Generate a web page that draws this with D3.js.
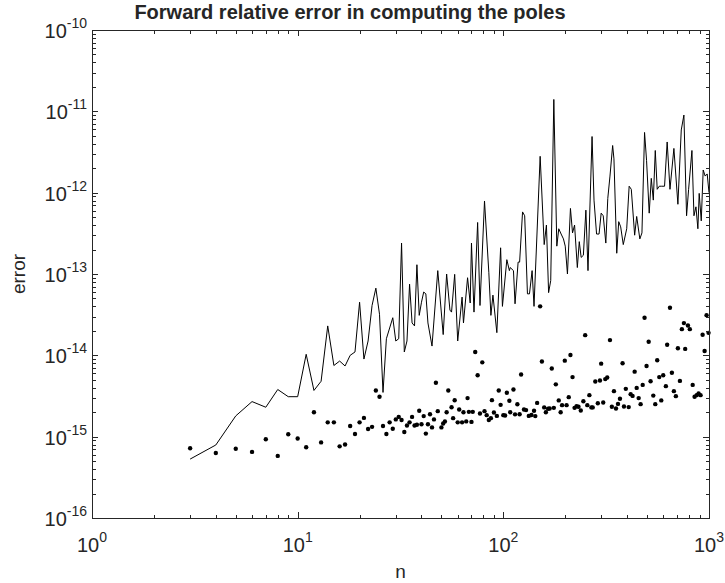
<!DOCTYPE html>
<html>
<head>
<meta charset="utf-8">
<script src="https://cdn.jsdelivr.net/npm/d3@7"></script>
<style>
  html, body { margin: 0; padding: 0; background: #fff; }
  svg { display: block; }
  text { font-family: "Liberation Sans", Arial, Helvetica, sans-serif; fill: #262626; }
</style>
</head>
<body>
<svg id="chart" width="725" height="583"></svg>
<script>
// ---- data ----
const lineN = [3,4,5,6,7,8,9,10,11,12,13,14,15,16,17,18,19,20,21,22,23,24,25,26,27,29,30,31,32,33,34,35,36,37,38,39,40,41,42,43,45,48,51,53,55,56,58,60,63,64,67,69,70,72,75,77,81,85,87,89,93,97,99,104,107,108,112,114,118,120,124,127,131,134,138,141,151,158,162,166,170,176,182,186,191,196,200,205,212,217,222,229,234,239,245,252,258,270,276,284,292,299,306,315,322,330,340,345,356,364,372,383,398,409,419,435,445,461,472,486,497,512,524,536,548,560,573,586,608,626,646,675,706,733,755,778,796,826,845,864,883,896,917,937,958,980,1000];
const lineErr = [5.3e-16,7.9e-16,1.8e-15,2.7e-15,2.3e-15,3.8e-15,3.1e-15,3.1e-15,1.03e-14,3.7e-15,4.8e-15,2.3e-14,7.5e-15,8.5e-15,7.4e-15,1.0e-14,1.1e-14,4.5e-14,9.0e-15,1.5e-14,4.1e-14,6.7e-14,3.2e-14,3.5e-15,1.6e-14,2.9e-14,1.5e-14,1.6e-14,2.4e-13,1.1e-14,1.5e-14,7.5e-14,2.5e-14,2.3e-14,1.3e-13,3.1e-14,4.5e-14,6.0e-14,5.7e-14,2.5e-14,1.3e-14,1.1e-13,1.8e-14,1.0e-13,3.6e-14,3.4e-14,9.9e-14,1.5e-14,5.2e-14,2.5e-14,9.0e-14,4.4e-14,2.4e-13,3.4e-14,4.3e-13,4.1e-14,7.9e-13,1.05e-13,3.1e-14,5.5e-14,1.9e-14,2.1e-13,4.0e-14,1.5e-13,1.1e-13,1.2e-13,1.1e-13,4.3e-14,1.4e-13,1.4e-13,5.8e-13,5.2e-13,5.7e-14,5.7e-14,1.1e-13,4.0e-14,2.8e-12,2.3e-13,4.0e-13,5.9e-14,8.3e-14,1.4e-11,2.2e-13,3.6e-13,3.1e-13,2.7e-13,2.2e-13,1.0e-13,6.4e-13,3.2e-13,4.0e-13,1.2e-13,2.5e-13,1.6e-13,1.7e-13,6.1e-13,1.1e-13,4.9e-12,8.1e-13,3.1e-13,3.1e-13,5.6e-13,5.2e-13,2.4e-13,8.5e-13,1.6e-12,3.8e-12,2.6e-12,1.8e-13,4.4e-13,3.8e-13,2.3e-13,3.6e-13,1.2e-12,1.1e-12,3.0e-13,5.1e-13,2.7e-13,3.2e-13,5.5e-12,2.5e-12,5.6e-13,1.5e-12,8.1e-13,3.3e-12,1.1e-12,1.2e-12,1.2e-12,1.2e-12,4.2e-12,1.1e-12,3.5e-12,7.2e-13,5.9e-12,9.0e-12,5.2e-13,1.1e-12,3.3e-12,5.2e-13,6.7e-13,3.6e-13,9.8e-13,4.5e-13,1.9e-12,1.6e-12,1.7e-12,1.0e-12];

const dotN = [3,4,5,6,7,8,9,10,11,12,13,14,15,16,17,18,19,20,21,22,23,24,25,26,27,28,29,30,31,32,33,34,35,36,37,38,39,40,41,42,43,44,45,46,47,48,50,51,52,53,54,56,57,58,60,61,63,64,66,67,68,70,71,73,75,77,79,81,83,85,87,88,90,93,95,97,100,102,104,107,108,112,114,117,120,122,126,129,133,137,141,143,146,151,154,158,161,165,168,172,176,180,186,190,193,199,203,208,212,217,222,227,232,238,245,250,256,262,268,272,280,288,295,299,306,313,320,330,337,345,353,361,369,380,386,394,407,416,425,435,445,455,465,476,486,497,509,520,536,548,560,573,586,599,617,626,646,660,675,690,706,722,738,755,766,790,807,833,851,871,890,910,931,952,973,995];
const dotErr = [7.2e-16,6.3e-16,7.1e-16,6.5e-16,9.3e-16,5.8e-16,1.07e-15,9.5e-16,7.4e-16,2.0e-15,8.5e-16,1.5e-15,1.5e-15,7.6e-16,8.0e-16,1.35e-15,1.08e-15,1.5e-15,1.7e-15,1.24e-15,1.32e-15,3.7e-15,3.1e-15,1.35e-15,1.08e-15,1.5e-15,1.25e-15,1.63e-15,1.75e-15,1.6e-15,1.14e-15,1.37e-15,1.5e-15,1.75e-15,1.37e-15,1.4e-15,2.08e-15,1.42e-15,1.79e-15,1.09e-15,1.42e-15,1.89e-15,1.3e-15,1.63e-15,4.6e-15,2.06e-15,1.3e-15,1.45e-15,1.54e-15,2.0e-15,3.7e-15,2.3e-15,1.69e-15,2.8e-15,1.5e-15,2.16e-15,1.5e-15,2.0e-15,1.54e-15,2.98e-15,2.02e-15,1.52e-15,2.02e-15,1.1e-14,5.7e-15,1.93e-15,8.2e-15,2.06e-15,1.84e-15,1.6e-15,1.69e-15,2.81e-15,1.98e-15,1.8e-15,3.7e-15,2.46e-15,1.84e-15,1.82e-15,3.46e-15,2.76e-15,2.0e-15,3.8e-15,1.88e-15,2.5e-15,1.89e-15,5.8e-15,2.16e-15,2.12e-15,1.8e-15,1.85e-15,2.08e-15,1.79e-15,2.6e-15,4.0e-14,8.4e-15,2.29e-15,2.0e-15,2.2e-15,2.22e-15,6.9e-15,2.26e-15,4.4e-15,2.79e-15,2.0e-15,2.44e-15,8.6e-15,2.44e-15,3.06e-15,1.01e-14,5.4e-15,2.26e-15,2.37e-15,2.33e-15,2.1e-15,2.73e-15,1.77e-14,2.44e-15,3.24e-15,2.29e-15,2.29e-15,4.77e-15,2.58e-15,4.9e-15,7.9e-15,2.63e-15,5.1e-15,5.35e-15,1.54e-14,2.33e-15,3.63e-15,2.22e-15,2.53e-15,2.92e-15,8.0e-15,2.35e-15,3.87e-15,2.31e-15,3.33e-15,3.17e-15,6.3e-15,3.98e-15,2.98e-15,2.51e-15,4.33e-15,2.9e-14,7.4e-15,1.47e-14,4.8e-15,3.2e-15,2.51e-15,8.7e-15,5.4e-15,2.79e-15,5.7e-15,4.18e-15,1.35e-14,3.84e-14,6.1e-15,3.63e-15,3.15e-15,1.22e-14,4.85e-15,2.1e-14,2.49e-14,1.2e-14,2.33e-14,2.1e-14,4.33e-15,3.09e-15,3.24e-15,3.4e-15,3.24e-15,1.79e-14,1.13e-14,3.12e-14,1.89e-14];

const xTickExps = [0, 1, 2, 3];
const yTickExps = [-16, -15, -14, -13, -12, -11, -10];

const titleText = "Forward relative error in computing the poles";
const xLabelText = "n";
const yLabelText = "error";

// ---- layout ----
const svg = d3.select("#chart");
const L = 92, R = 709, T = 30, B = 518;
const axisColor = "#262626";

const x = d3.scaleLog().domain([1, 1000]).range([L, R]);
const y = d3.scaleLog().domain([1e-16, 1e-10]).range([B, T]);

const lineData = lineN.map((n, i) => ({ n, e: lineErr[i] }));
const dotData = dotN.map((n, i) => ({ n, e: dotErr[i] }));

const plot = svg.append("g");
plot.append("path")
  .datum(lineData)
  .attr("fill", "none")
  .attr("stroke", "#000")
  .attr("stroke-width", 1)
  .attr("d", d3.line().x(d => x(d.n)).y(d => y(d.e)));

plot.selectAll("circle.dot")
  .data(dotData)
  .enter().append("circle")
  .attr("class", "dot")
  .attr("cx", d => x(d.n))
  .attr("cy", d => y(d.e))
  .attr("r", 2.2)
  .attr("fill", "#000");

// ---- axes (box, inward ticks on all sides) ----
const majLen = 6, minLen = 3.5;
function logTicks(lo, hi) {
  const out = [];
  for (let k = lo; k < hi; k++) {
    for (let m = 1; m <= 9; m++) out.push({ v: m * Math.pow(10, k), major: m === 1 });
  }
  out.push({ v: Math.pow(10, hi), major: true });
  return out;
}
const xt = logTicks(xTickExps[0], xTickExps[xTickExps.length - 1]);
const yt = logTicks(yTickExps[0], yTickExps[yTickExps.length - 1]);

const ax = svg.append("g").attr("stroke", axisColor).attr("stroke-width", 1).attr("shape-rendering", "crispEdges");
xt.forEach(t => {
  const px = Math.round(x(t.v)) + 0.5;
  const len = t.major ? majLen : minLen;
  ax.append("line").attr("x1", px).attr("x2", px).attr("y1", B).attr("y2", B - len);
  ax.append("line").attr("x1", px).attr("x2", px).attr("y1", T).attr("y2", T + len);
});
yt.forEach(t => {
  const py = Math.round(y(t.v)) + 0.5;
  const len = t.major ? majLen : minLen;
  ax.append("line").attr("x1", L).attr("x2", L + len).attr("y1", py).attr("y2", py);
  ax.append("line").attr("x1", R).attr("x2", R - len).attr("y1", py).attr("y2", py);
});
ax.append("rect").attr("x", L + 0.5).attr("y", T + 0.5).attr("width", R - L).attr("height", B - T)
  .attr("fill", "none");

// tick labels
const baseSize = 20, supSize = 14;
xTickExps.forEach(k => {
  const t = svg.append("text")
    .attr("x", x(Math.pow(10, k)))
    .attr("y", 552)
    .attr("text-anchor", "middle")
    .attr("font-size", baseSize);
  t.append("tspan").text("10");
  t.append("tspan").attr("font-size", supSize).attr("dy", -10).text(String(k));
});
yTickExps.forEach(k => {
  const t = svg.append("text")
    .attr("x", 87)
    .attr("y", y(Math.pow(10, k)) + 8)
    .attr("text-anchor", "end")
    .attr("font-size", baseSize);
  t.append("tspan").text("10");
  t.append("tspan").attr("font-size", supSize).attr("dy", -10).text(String(k));
});

// labels
svg.append("text")
  .attr("x", (L + R) / 2)
  .attr("y", 578)
  .attr("text-anchor", "middle")
  .attr("font-size", 19)
  .text(xLabelText);

svg.append("text")
  .attr("transform", `translate(25, ${(T + B) / 2}) rotate(-90)`)
  .attr("text-anchor", "middle")
  .attr("font-size", 19)
  .text(yLabelText);

svg.append("text")
  .attr("x", 350)
  .attr("y", 19)
  .attr("text-anchor", "middle")
  .attr("font-size", 20)
  .attr("font-weight", "bold")
  .attr("fill", "#000")
  .text(titleText);
</script>
</body>
</html>
